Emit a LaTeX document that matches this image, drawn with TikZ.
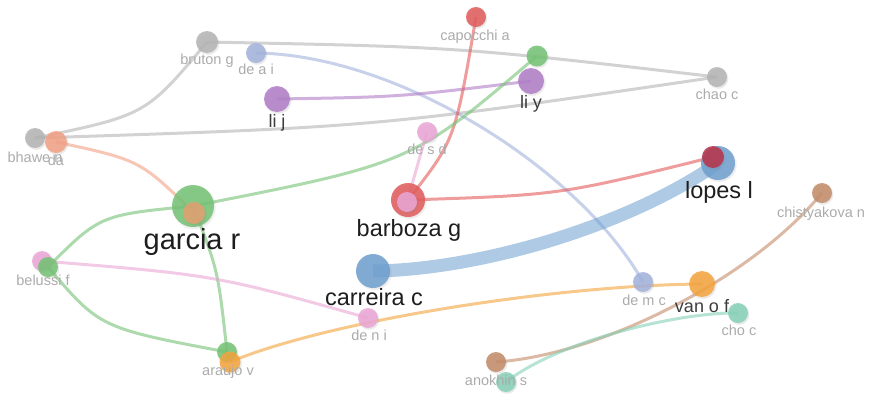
\documentclass[tikz,border=0pt]{standalone}
\usepackage{fontspec}
\setmainfont{Liberation Sans}
\usetikzlibrary{shadows}
\pgfdeclarelayer{edges}
\pgfsetlayers{edges,main}
\definecolor{cgray}{HTML}{B4B4B4}
\definecolor{cblue}{HTML}{A3B2DC}
\definecolor{cpurple}{HTML}{B07CC6}
\definecolor{cred}{HTML}{E25A5A}
\definecolor{cgreen}{HTML}{74C274}
\definecolor{cpink}{HTML}{EBA6D6}
\definecolor{cbig}{HTML}{6E9FCF}
\definecolor{cdred}{HTML}{B8334A}
\definecolor{csalmon}{HTML}{F2A084}
\definecolor{ctan}{HTML}{E4A070}
\definecolor{corange}{HTML}{F4A43C}
\definecolor{cbrown}{HTML}{C38B68}
\definecolor{cteal}{HTML}{86D0B6}
\definecolor{labgray}{HTML}{ABABAB}
\definecolor{labmid}{HTML}{3C3C3C}
\definecolor{labdark}{HTML}{1E1E1E}
\tikzset{
  vn/.style={circle, inner sep=0pt, minimum size=#1, fill opacity=0.85, draw=none,
    circular drop shadow={shadow xshift=0.8pt, shadow yshift=-1.2pt, opacity=0.18, shadow scale=1.08}},
  ed/.style={draw=#1, line width=3pt, draw opacity=0.6},
  lsmall/.style={anchor=base, inner sep=0pt, text=labgray, font=\fontsize{14.5}{16}\selectfont},
  lmid/.style={anchor=base, inner sep=0pt, text=labmid, font=\fontsize{18}{20}\selectfont},
  lbig/.style={anchor=base, inner sep=0pt, text=labdark, font=\fontsize{23.5}{26}\selectfont},
  lhuge/.style={anchor=base, inner sep=0pt, text=labdark, font=\fontsize{29}{32}\selectfont},
}
\begin{document}
\begin{tikzpicture}[x=1pt,y=-1pt]
\useasboundingbox (0,0) rectangle (869,394);
% nodes
\node[vn=22pt, fill=cgray] (bruton) at (207,42) {};
\node[vn=20pt, fill=cblue] (deai) at (256,53) {};
\node[vn=26pt, fill=cpurple] (lij) at (277,99) {};
\node[vn=20pt, fill=cgray] (bhawe) at (35,138) {};
\node[vn=22pt, fill=csalmon] (da) at (56,142) {};
\node[vn=20pt, fill=cred] (capocchi) at (476,17) {};
\node[vn=21pt, fill=cgreen] (gly) at (537,56) {};
\node[vn=26pt, fill=cpurple] (liy) at (531,81) {};
\node[vn=20pt, fill=cpink] (desd) at (427,132) {};
\node[vn=20pt, fill=cgray] (chao) at (717,77) {};
\node[vn=34pt, fill=cbig] (lopes) at (718,163) {};
\node[vn=22pt, fill=cdred] (rlopes) at (713,157) {};
\node[vn=20pt, fill=cbrown] (chist) at (822,193) {};
\node[vn=42pt, fill=cgreen] (garcia) at (193,206) {};
\node[vn=22pt, fill=ctan] (ogarcia) at (194,213) {};
\node[vn=20pt, fill=cpink] (pbel) at (42,261) {};
\node[vn=20pt, fill=cgreen] (belussi) at (48,267) {};
\node[vn=20pt, fill=cgreen] (garaujo) at (227,352) {};
\node[vn=21pt, fill=corange] (araujo) at (230,362) {};
\node[vn=34pt, fill=cred] (barboza) at (408,200) {};
\node[vn=20pt, fill=cpink] (pbarboza) at (407,202) {};
\node[vn=34pt, fill=cbig] (carreira) at (373,271) {};
\node[vn=20pt, fill=cpink] (deni) at (368,318) {};
\node[vn=20pt, fill=cbrown] (anokhin) at (496,362) {};
\node[vn=20pt, fill=cteal] (tanokhin) at (506,382) {};
\node[vn=20pt, fill=cblue] (demc) at (643,282) {};
\node[vn=26pt, fill=corange] (vanof) at (702,284) {};
\node[vn=20pt, fill=cteal] (choc) at (738,313) {};
% edges
\begin{pgfonlayer}{edges}
\draw[ed=cgray] (bruton.center) .. controls (459,47) .. (chao.center);
\draw[ed=cgray] (bruton.center) .. controls (146,115) .. (bhawe.center);
\draw[ed=cgray] (bhawe.center) .. controls (376,127) .. (chao.center);
\draw[ed=cblue] (deai.center) .. controls (400,55) and (580,170) .. (demc.center);
\draw[ed=cpurple] (lij.center) .. controls (400,97) .. (liy.center);
\draw[ed=cred] (capocchi.center) .. controls (455,140) .. (barboza.center);
\draw[ed=cgreen] (gly.center) .. controls (412,163) .. (garcia.center);
\draw[ed=cpink] (desd.center) -- (pbarboza.center);
\draw[ed=cred] (barboza.center) .. controls (560,195) .. (rlopes.center);
\draw[draw=cbig, draw opacity=0.55, line width=13pt] (carreira.center) .. controls (480,270) and (630,225) .. (lopes.center);
\draw[ed=csalmon] (da.center) .. controls (140,160) .. (ogarcia.center);
\draw[ed=cgreen] (garcia.center) .. controls (100,215) .. (belussi.center);
\draw[ed=cgreen] (garcia.center) .. controls (218,270) .. (garaujo.center);
\draw[ed=cgreen] (belussi.center) .. controls (100,328) .. (garaujo.center);
\draw[ed=cpink] (pbel.center) .. controls (215,275) .. (deni.center);
\draw[ed=corange] (araujo.center) .. controls (330,320) and (560,285) .. (vanof.center);
\draw[ed=cbrown] (anokhin.center) .. controls (600,355) and (750,280) .. (chist.center);
\draw[ed=cteal] (tanokhin.center) .. controls (560,340) and (680,312) .. (choc.center);
\end{pgfonlayer}
% labels
\node[lsmall] (l-bruton) at (207,64) {bruton g};
\node[lsmall] (l-deai) at (256,74) {de a i};
\node[lmid] (l-lij) at (277,127) {li j};
\node[lsmall] (l-bhawe) at (35,162) {bhawe n};
\node[lsmall] (l-da) at (56,165) {da};
\node[lsmall] (l-capocchi) at (475,40) {capocchi a};
\node[lmid] (l-liy) at (531,108) {li y};
\node[lsmall] (l-desd) at (427,154) {de s d};
\node[lsmall] (l-chao) at (717,99) {chao c};
\node[lbig] (l-lopes) at (719,198) {lopes l};
\node[lsmall] (l-chist) at (821,217) {chistyakova n};
\node[lhuge] (l-garcia) at (192,249) {garcia r};
\node[lsmall] (l-belussi) at (43,285) {belussi f};
\node[lsmall] (l-araujo) at (228,375) {araujo v};
\node[lbig] (l-barboza) at (409,236) {barboza g};
\node[lbig] (l-carreira) at (374,305) {carreira c};
\node[lsmall] (l-deni) at (369,340) {de n i};
\node[lsmall] (l-anokhin) at (496,385) {anokhin s};
\node[lsmall] (l-demc) at (644,305) {de m c};
\node[lmid] (l-vanof) at (702,312) {van o f};
\node[lsmall] (l-choc) at (739,335) {cho c};
\end{tikzpicture}
\end{document}
